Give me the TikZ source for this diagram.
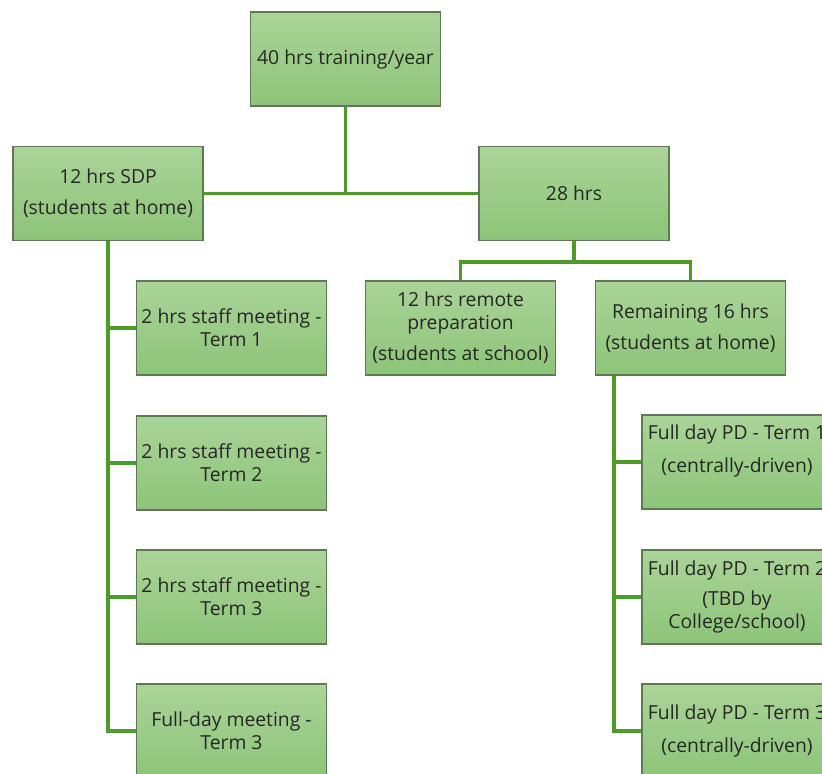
\documentclass[tikz,border=0pt]{standalone}
\usepackage{fontspec}
\setmainfont{Open Sans}
\usetikzlibrary{calc}
\definecolor{boxtop}{RGB}{170,212,152}
\definecolor{boxbot}{RGB}{141,196,121}
\definecolor{boxline}{RGB}{98,118,88}
\definecolor{linkgreen}{RGB}{76,156,44}
\tikzset{
  box/.style={draw=boxline, line width=0.8pt, top color=boxtop, bottom color=boxbot,
    minimum width=142.5pt, minimum height=70.5pt, align=center, inner sep=2pt,
    font=\fontsize{14.5pt}{17.3pt}\selectfont, text=black!85},
  link/.style={linkgreen, line width=2.6pt}
}
\begin{document}
\begin{tikzpicture}[x=0.75pt, y=-0.75pt]
\useasboundingbox (0,0) rectangle (822,774);
\clip (0,0) rectangle (822,774);
% top of the tree
\node[box] (total) at (345.5,59) {40 hrs training/year};
\node[box] (sdp) at (108,193.5) {12 hrs SDP\\[6pt](students at home)};
\node[box] (rest) at (574,193.5) {28 hrs};
\node[box] (remote) at (460.5,328) {12 hrs remote\\preparation\\[6pt](students at school)};
\node[box] (remain) at (690.5,328) {Remaining 16 hrs\\[6pt](students at home)};
% SDP branch
\node[box] (staff1) at (231.5,328) {2 hrs staff meeting -\\Term 1};
\node[box] (staff2) at (231.5,463) {2 hrs staff meeting -\\Term 2};
\node[box] (staff3) at (231.5,597) {2 hrs staff meeting -\\Term 3};
\node[box] (fullmeet) at (231.5,731) {Full-day meeting -\\Term 3};
% remaining 16 hrs branch
\node[box] (pd1) at (737,462) {Full day PD - Term 1\\[7pt](centrally-driven)\\[3pt]\mbox{}};
\node[box] (pd2) at (737,597) {Full day PD - Term 2\\[5pt](TBD by\\College/school)};
\node[box] (pd3) at (737,731) {Full day PD - Term 3\\[7pt](centrally-driven)};
% connectors
\draw[link] (sdp.east) -- (rest.west);
\draw[link] (total.south) -- (total.south |- sdp.east);
\draw[link] (rest.south) -- ++(0,21) coordinate (fork);
\draw[link] (remote.north) |- (fork) -| (remain.north);
\draw[link] (sdp.south) |- (fullmeet.west);
\foreach \n in {staff1,staff2,staff3}
  \draw[link] (sdp.south |- \n.west) -- (\n.west);
\coordinate (trunk) at ($(remain.south west)+(19,0)$);
\draw[link] (trunk) |- (pd3.west);
\foreach \n in {pd1,pd2}
  \draw[link] (trunk |- \n.west) -- (\n.west);
\end{tikzpicture}
\end{document}
